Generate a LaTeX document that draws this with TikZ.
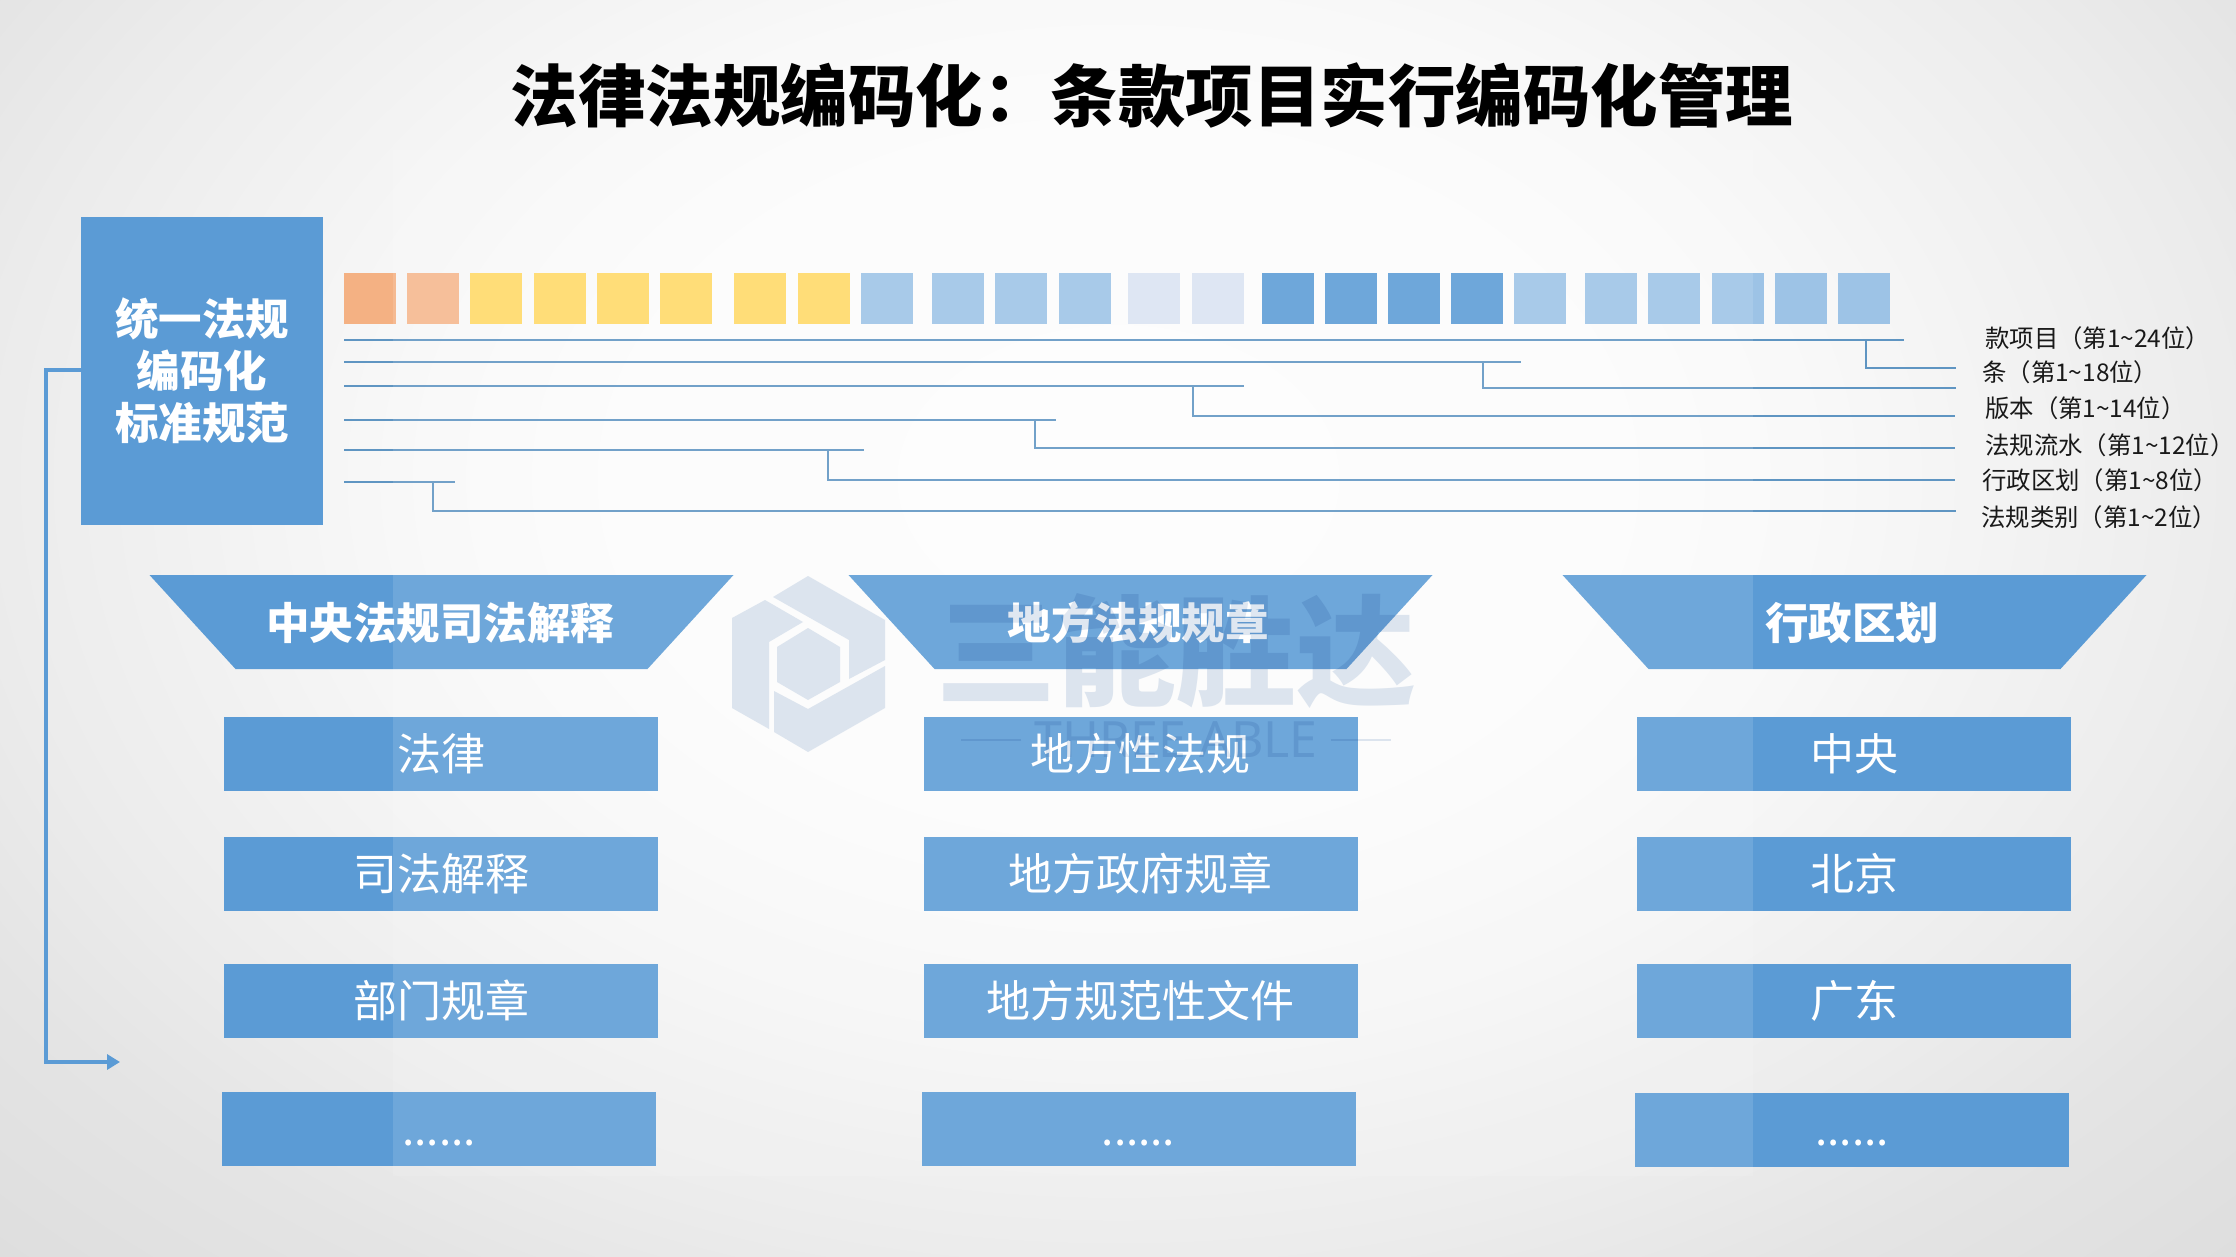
\documentclass[tikz,border=0pt]{standalone}
\usepackage{xcolor}
\usepackage{fontspec}
\setmainfont{Noto Sans CJK SC}
\newfontfamily\latinfont{Noto Sans}
\newfontfamily\heavyfont{Noto Sans CJK SC Black}
\usetikzlibrary{arrows.meta,calc,positioning}
\definecolor{barblue}{HTML}{5B9BD5}
\definecolor{linkblue}{HTML}{5F95C2}
\definecolor{cellorange}{HTML}{F4B183}
\definecolor{cellyellow}{HTML}{FFD966}
\definecolor{cellmid}{HTML}{9DC3E6}
\definecolor{cellpale}{HTML}{DAE3F2}
\definecolor{markblue}{HTML}{DFE7F1}
\pgfdeclareradialshading{pagebg}{\pgfpoint{0bp}{0bp}}{color(0bp)=(white!99.2!black); color(11bp)=(white!98.8!black); color(15.5bp)=(white!97.6!black); color(25bp)=(white!92.5!black); color(29.5bp)=(white!89.5!black); color(35.5bp)=(white!87!black); color(50bp)=(white!87!black)}
\tikzset{
    codecell/.style={minimum width=52pt,minimum height=51pt,inner sep=0pt},
    codeline/.style={linkblue,line width=2.4pt},
    ruleitem/.style={fill=barblue,minimum width=434pt,minimum height=74pt,inner sep=0pt,text=white,
        font=\fontsize{44}{50}\selectfont,text height=37pt,text depth=5pt},
    rulehead/.style={text=white,font=\fontsize{43.5}{50}\selectfont\bfseries,inner sep=0pt},
    codelabel/.style={anchor=west,inner sep=0pt,text=black!90,font=\fontsize{24.4}{30}\selectfont},
    markpart/.style={fill=markblue,draw=none},
}

\begin{document}
\begin{tikzpicture}[x=1pt,y=-1pt]
    \useasboundingbox (0,0) rectangle (2236,1257);
    \shade[shading=pagebg] (0,-300) rectangle (2236,1257);

    \node[font=\fontsize{67.5}{78}\selectfont\bfseries,inner sep=0pt] (pagetitle) at (1152,95) {法律法规编码化：条款项目实行编码化管理};

    \node[fill=barblue,minimum width=242pt,minimum height=308pt,inner sep=0pt,text=white,align=center,
        font=\fontsize{43.5}{52}\selectfont\bfseries] (stdbox) at (202,371) {统一法规\\编码化\\标准规范};

    % 24 code cells
    \foreach \xa/\cellcol [count=\n] in {344/cellorange,407/cellorange!92!white,470/cellyellow,534/cellyellow,597/cellyellow,660/cellyellow,
        734/cellyellow,798/cellyellow,861/cellmid,932/cellmid,995/cellmid,1059/cellmid,1128/cellpale,1192/cellpale,
        1262/barblue,1325/barblue,1388/barblue,1451/barblue,1514/cellmid,1585/cellmid,1648/cellmid,1712/cellmid,1775/cellmid,1838/cellmid}
        \node[codecell,fill=\cellcol,anchor=north west] (cell\n) at (\xa,273) {};

    % code ranges
    \foreach \nm/\ya/\xb/\xc/\yb/\xd in {a/340/1904/1866/368/1956,b/362/1521/1483/388/1956,c/386/1244/1193/416/1955,
        d/420/1056/1035/448/1955,e/450/864/828/480/1955,f/482/455/433/511/1956}{
        \coordinate (start\nm) at (344,\ya);
        \coordinate (stop\nm) at (\xb,\ya);
        \coordinate (drop\nm) at (\xc,\ya);
        \coordinate (tail\nm) at (\xd,\yb);
        \draw[codeline] (start\nm) -- (stop\nm);
        \draw[codeline] (drop\nm) |- (tail\nm);
    }

    \node[codelabel] (labela) at (1985,338) {款项目（第1\textasciitilde 24位）};
    \node[codelabel] (labelb) at (1982,372) {条（第1\textasciitilde 18位）};
    \node[codelabel] (labelc) at (1985,408) {版本（第1\textasciitilde 14位）};
    \node[codelabel] (labeld) at (1985,445) {法规流水（第1\textasciitilde 12位）};
    \node[codelabel] (labele) at (1982,480) {行政区划（第1\textasciitilde 8位）};
    \node[codelabel] (labelf) at (1981,517) {法规类别（第1\textasciitilde 2位）};

    \foreach \cx in {441.5,1140.5,1854.5}
        \fill[barblue] (\cx-292,575) -- (\cx+292,575) -- (\cx+206,669) -- (\cx-206,669) -- cycle;
    \node[rulehead] (headcentral) at (440,623) {中央法规司法解释};
    \node[rulehead] (headlocal) at (1138,623) {地方法规规章};
    \node[rulehead] (headarea) at (1852,623) {行政区划};

    \node[ruleitem] (lawa) at (441,754) {法律};
    \node[ruleitem] (lawb) at (441,874) {司法解释};
    \node[ruleitem] (lawc) at (441,1001) {部门规章};
    \node[ruleitem] (lawd) at (439,1129) {......};
    \node[ruleitem] (locala) at (1140.5,754) {地方性法规};
    \node[ruleitem] (localb) at (1140.5,874) {地方政府规章};
    \node[ruleitem] (localc) at (1140.5,1001) {地方规范性文件};
    \node[ruleitem] (locald) at (1138.5,1129) {......};
    \node[ruleitem] (areaa) at (1854,754) {中央};
    \node[ruleitem] (areab) at (1854,874) {北京};
    \node[ruleitem] (areac) at (1854,1001) {广东};
    \node[ruleitem] (aread) at (1852,1129.5) {......};

    % pale panel over the middle
    \fill[white,opacity=0.12] (393,150) rectangle (1753,1176);

    \coordinate (bendtop) at (46,370);
    \coordinate (arrowend) at (120,1062);
    \draw[barblue,line width=3.4pt,-{Triangle[length=13pt,width=15pt]}] (stdbox.west |- bendtop) -- (bendtop) |- (arrowend);

    % watermark
    \begin{scope}[blend mode=multiply]
        \fill[markpart] (808,576) -- (885,620) -- (885,660) -- (849,679) -- (849,640) -- (773,597) -- cycle;
        \fill[markpart] (765,600) -- (803,622) -- (769,642) -- (769,729) -- (732,708) -- (732,618) -- cycle;
        \fill[markpart] (808,628) -- (840,647) -- (840,682) -- (808,700) -- (777,682) -- (777,647) -- cycle;
        \fill[markpart] (774,691) -- (808,709) -- (885,666) -- (885,708) -- (808,752) -- (774,732) -- cycle;
        \node[text=markblue,inner sep=0pt,font=\heavyfont\fontsize{120}{130}\selectfont] (markname) at (1176,651) {三能胜达};
        \node[text=markblue,inner sep=0pt,font=\latinfont\fontsize{50}{50}\selectfont] (markeng) at (1176,740) {THREE ABLE};
        \draw[markblue,line width=2pt] (markeng.west) ++(-13,0) -- ++(-60,0);
        \draw[markblue,line width=2pt] (markeng.east) ++(13,0) -- ++(60,0);
    \end{scope}
\end{tikzpicture}
\end{document}
